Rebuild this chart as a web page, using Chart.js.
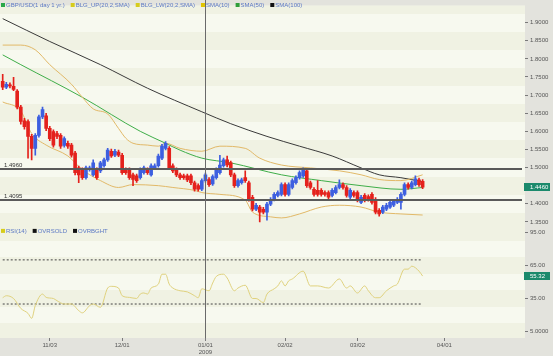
<!DOCTYPE html>
<html><head><meta charset="utf-8"><title>GBP/USD</title>
<script src="https://cdn.jsdelivr.net/npm/chart.js@4.4.1/dist/chart.umd.min.js"></script>
<style>html,body{margin:0;padding:0;background:#e3e3dd;overflow:hidden}canvas{display:block}</style>
</head><body>
<canvas id="c" width="553" height="356"></canvas>
<script>
// ---- data (daily candles, 15 Oct 2008 .. 26 Mar 2009) ----
const candleOpen  = [1.738,1.722,1.728,1.724,1.711,1.667,1.629,1.627,1.586,1.553,1.589,1.640,1.643,1.608,1.599,1.594,1.589,1.561,1.567,1.562,1.540,1.499,1.494,1.472,1.494,1.480,1.494,1.491,1.505,1.521,1.545,1.534,1.543,1.534,1.494,1.494,1.480,1.477,1.472,1.486,1.494,1.480,1.499,1.505,1.526,1.553,1.553,1.505,1.494,1.480,1.477,1.477,1.477,1.458,1.450,1.440,1.464,1.467,1.455,1.472,1.486,1.505,1.521,1.513,1.480,1.450,1.458,1.472,1.458,1.418,1.385,1.391,1.385,1.377,1.399,1.412,1.423,1.426,1.453,1.426,1.445,1.458,1.472,1.477,1.491,1.458,1.440,1.437,1.437,1.431,1.431,1.423,1.431,1.445,1.453,1.445,1.418,1.431,1.431,1.404,1.423,1.420,1.426,1.412,1.382,1.377,1.385,1.391,1.396,1.404,1.404,1.426,1.453,1.445,1.453,1.466,1.462];
const candleHigh  = [1.757,1.735,1.734,1.749,1.715,1.672,1.636,1.632,1.592,1.594,1.645,1.667,1.650,1.614,1.604,1.600,1.594,1.585,1.573,1.567,1.545,1.504,1.499,1.504,1.504,1.521,1.499,1.517,1.526,1.553,1.551,1.550,1.548,1.539,1.499,1.499,1.485,1.482,1.499,1.504,1.499,1.510,1.510,1.537,1.564,1.572,1.558,1.510,1.499,1.485,1.482,1.482,1.482,1.463,1.455,1.469,1.485,1.472,1.480,1.499,1.534,1.526,1.532,1.518,1.485,1.469,1.471,1.491,1.463,1.423,1.401,1.396,1.390,1.404,1.417,1.431,1.436,1.458,1.458,1.458,1.469,1.477,1.491,1.499,1.496,1.463,1.445,1.464,1.442,1.436,1.436,1.442,1.450,1.466,1.458,1.450,1.442,1.436,1.436,1.423,1.428,1.425,1.431,1.417,1.387,1.396,1.401,1.409,1.412,1.417,1.431,1.458,1.458,1.463,1.477,1.471,1.467];
const candleLow   = [1.715,1.718,1.720,1.712,1.662,1.620,1.606,1.526,1.521,1.534,1.584,1.635,1.602,1.574,1.556,1.580,1.553,1.556,1.553,1.529,1.480,1.458,1.467,1.468,1.490,1.476,1.467,1.486,1.501,1.517,1.528,1.530,1.530,1.481,1.481,1.467,1.450,1.459,1.468,1.482,1.481,1.476,1.495,1.501,1.522,1.549,1.495,1.486,1.475,1.467,1.467,1.461,1.453,1.435,1.435,1.436,1.460,1.448,1.451,1.468,1.482,1.501,1.502,1.475,1.445,1.446,1.454,1.459,1.407,1.380,1.381,1.350,1.372,1.355,1.395,1.408,1.419,1.422,1.421,1.422,1.441,1.454,1.468,1.473,1.445,1.440,1.421,1.421,1.421,1.421,1.413,1.419,1.427,1.441,1.440,1.418,1.414,1.418,1.405,1.400,1.405,1.407,1.399,1.372,1.366,1.373,1.381,1.387,1.392,1.400,1.385,1.422,1.440,1.441,1.449,1.448,1.442];
const candleClose = [1.722,1.730,1.725,1.716,1.667,1.627,1.613,1.586,1.553,1.589,1.640,1.660,1.608,1.580,1.562,1.586,1.559,1.580,1.559,1.534,1.486,1.480,1.472,1.499,1.499,1.513,1.472,1.513,1.521,1.548,1.532,1.545,1.534,1.486,1.486,1.472,1.467,1.464,1.494,1.499,1.486,1.505,1.505,1.532,1.559,1.567,1.499,1.491,1.480,1.472,1.472,1.466,1.458,1.440,1.440,1.464,1.480,1.453,1.475,1.494,1.507,1.521,1.507,1.480,1.450,1.464,1.466,1.464,1.412,1.385,1.396,1.377,1.377,1.399,1.412,1.426,1.431,1.453,1.426,1.453,1.464,1.472,1.486,1.494,1.450,1.445,1.426,1.426,1.426,1.426,1.418,1.437,1.445,1.453,1.445,1.423,1.437,1.423,1.410,1.418,1.410,1.412,1.404,1.377,1.372,1.391,1.396,1.404,1.407,1.412,1.426,1.453,1.445,1.458,1.469,1.453,1.446];

// indicator lines (day index, value)
const bbUpIdx  = [0,5,9,13,19,22,25,29,32,34,36,40,43,45,49,55,60,67,71,77,85,93,99,104,110,116];
const bbUpVal  = [1.838,1.838,1.825,1.784,1.730,1.694,1.662,1.648,1.608,1.581,1.567,1.562,1.559,1.567,1.553,1.545,1.559,1.553,1.526,1.507,1.499,1.491,1.480,1.467,1.464,1.480];
const bbLwIdx  = [0,5,8,12,18,22,27,32,36,43,47,53,55,60,67,69,74,77,82,88,93,99,104,110,116];
const bbLwVal  = [1.681,1.656,1.594,1.562,1.532,1.494,1.464,1.445,1.453,1.450,1.445,1.437,1.431,1.426,1.410,1.377,1.364,1.361,1.372,1.391,1.396,1.391,1.377,1.372,1.369];
const sma50Idx = [0,5,22,38,45,49,55,63,77,88,99,110,116];
const sma50Val = [1.811,1.784,1.694,1.600,1.567,1.548,1.526,1.513,1.480,1.464,1.450,1.440,1.445];
const sma100Idx = [0,13,27,40,55,63,73,82,91,99,104,110,116];
const sma100Val = [1.911,1.848,1.784,1.719,1.654,1.621,1.586,1.559,1.532,1.499,1.480,1.472,1.461];

const rsiIdx = [0,1,3,5,7,8,9,11,12,14,15,17,19,21,22,24,25,27,29,30,32,33,35,37,38,39,40,41,43,44,45,46,47,49,51,53,54,55,57,58,59,61,62,64,65,67,69,70,72,73,75,76,77,78,79,80,83,85,87,90,93,95,96,98,100,101,103,104,106,108,109,111,112,113,115,116];
const rsiVal = [35.7,37.5,35,26,21.5,17,28.6,39,36,35,33,30,30,24,22,28.5,30,27,44.5,46,44.5,37.5,36,35,39,40,39,44.5,48,57,57,48,44.5,42,41,37.5,35.7,43.8,42,49,55,57,53.6,42,44.5,47,35,35,31.3,39,43.8,46.4,51,46.4,51,52.7,59.8,46.4,46.4,44.5,52.7,44.5,46.4,40,46.4,42,35.7,35.7,42,46.4,48,61.6,61.6,64.3,59.8,55.32];
const rsiLevels = [30, 70];

const tickIdx    = [13,33,56,78,98,122];
const tickLabels = ['11/03','12/01','01/01','02/02','03/02','04/01'];
const yearLabel  = '2009';
const priceTicks = [1.35,1.40,1.45,1.50,1.55,1.60,1.65,1.70,1.75,1.80,1.85,1.90];
const rsiTicks   = [5,20,35,50,65,80,95];
const levelValues = [1.4960, 1.4095];
const levelLabels = ['1.4960', '1.4095'];
const lastPrice = 1.4460, lastRsi = 55.32;

const mainLegend = [['GBP/USD(1 day 1 yr.)','#2aa84a'],['BLG_UP(20,2,SMA)','#d6cc1c'],['BLG_LW(20,2,SMA)','#d6cc1c'],['SMA(10)','#e0c400'],['SMA(50)','#2f9e3a'],['SMA(100)','#111111']];
const rsiLegend  = [['RSI(14)','#d6cc1c'],['OVRSOLD','#111111'],['OVRBGHT','#111111']];

// ---- chart ----
const FONT = 'Arial, "Liberation Sans", sans-serif';
const idx = candleOpen.map((_, i) => i);
const candleColor = idx.map(i => candleClose[i] >= candleOpen[i] ? '#3d5fe0' : '#e4211c');
const wickData = idx.map(i => ({x: i, y: [candleLow[i], candleHigh[i]]}));
const bodyData = idx.map(i => ({x: i, y: [candleOpen[i], candleClose[i]]}));
const pts = (xs, ys) => xs.map((x, k) => ({x: x, y: ys[k]}));
const lastI = idx[idx.length - 1];
const lineDs = (label, data, color, axis, extra) => Object.assign({type:'line', label, data, yAxisID: axis, borderColor: color, borderWidth: 1, pointRadius: 0, cubicInterpolationMode: 'monotone', order: 2}, extra || {});

const bgPlugin = {
  id: 'bg',
  beforeDraw(chart) {
    const {ctx, chartArea: a} = chart;
    ctx.save();
    ctx.fillStyle = '#e3e3dd';
    ctx.fillRect(0, 0, chart.width, chart.height);
    [['y', 0.025, 1.25, 2.05], ['yRsi', 7.5, -25, 125]].forEach(([id, half, from, to]) => {
      const s = chart.scales[id];
      ctx.save();
      ctx.beginPath(); ctx.rect(a.left, s.top, a.right - a.left, s.bottom - s.top); ctx.clip();
      ctx.fillStyle = '#f7f9ef';
      ctx.fillRect(a.left, s.top, a.right - a.left, s.bottom - s.top);
      const step = half * 2;
      let k = 0;
      for (let v = from; v <= to; v += step, k++) {
        if (k % 2 === 0) {
          const y1 = s.getPixelForValue(v + half), y2 = s.getPixelForValue(v - half);
          ctx.fillStyle = '#f0f2e3';
          ctx.fillRect(a.left, Math.round(y1), a.right - a.left, Math.round(y2) - Math.round(y1));
        }
      }
      ctx.restore();
    });
    ctx.restore();
  },
  afterDatasetsDraw(chart) {
    const {ctx, chartArea: a} = chart;
    const y = chart.scales.y, x = chart.scales.x;
    ctx.save();
    levelValues.forEach((v, k) => {
      const py = Math.round(y.getPixelForValue(v));
      ctx.fillStyle = '#5a5a5a';
      ctx.fillRect(a.left, py - 1, a.right - a.left - 3, 2);
      ctx.fillStyle = '#333';
      ctx.font = '6px ' + FONT;
      ctx.textBaseline = 'bottom';
      ctx.fillText(levelLabels[k], a.left + 4, py - 1);
    });
    const vx = Math.round(x.getPixelForValue(tickIdx[2])) + 0.5;
    ctx.strokeStyle = '#6a6a6a'; ctx.lineWidth = 1;
    ctx.beginPath(); ctx.moveTo(vx, 0); ctx.lineTo(vx, a.bottom); ctx.stroke();
    ctx.restore();
  },
  afterDraw(chart) {
    const {ctx, chartArea: a} = chart;
    ctx.save();
    ctx.font = '6px ' + FONT;
    ctx.textBaseline = 'middle';
    const drawLegend = (items, cy) => {
      let lx = a.left + 1;
      items.forEach(([t, c]) => {
        ctx.fillStyle = c; ctx.fillRect(lx, cy - 2, 4, 4);
        ctx.fillStyle = '#5b78c4'; ctx.fillText(t, lx + 5, cy);
        lx += 5 + ctx.measureText(t).width + 6;
      });
    };
    drawLegend(mainLegend, 5);
    drawLegend(rsiLegend, chart.scales.yRsi.top + 5);
    [['y', lastPrice, lastPrice.toFixed(4)], ['yRsi', lastRsi, lastRsi.toFixed(2)]].forEach(([id, v, t]) => {
      const s = chart.scales[id];
      const py = Math.round(s.getPixelForValue(v));
      ctx.fillStyle = '#1b8a6c';
      ctx.fillRect(a.right - 1, py - 4, 26, 8);
      ctx.fillStyle = '#ffffff';
      ctx.textAlign = 'left';
      ctx.fillText(t, a.right + 5, py);
    });
    ctx.restore();
  }
};

new Chart(document.getElementById('c'), {
  data: {
    datasets: [
      {type:'bar', label:'wick', data: wickData, yAxisID:'y', backgroundColor: candleColor, barThickness: 1, grouped: false, order: 1},
      {type:'bar', label:'GBP/USD(1 day 1 yr.)', data: bodyData, yAxisID:'y', backgroundColor: candleColor, barThickness: 3, grouped: false, minBarLength: 1, order: 0},
      lineDs('BLG_UP(20,2,SMA)', pts(bbUpIdx, bbUpVal), '#e2b968', 'y'),
      lineDs('BLG_LW(20,2,SMA)', pts(bbLwIdx, bbLwVal), '#e2b968', 'y'),
      lineDs('SMA(50)', pts(sma50Idx, sma50Val), '#3fae49', 'y'),
      lineDs('SMA(100)', pts(sma100Idx, sma100Val), '#3a3a3a', 'y'),
      lineDs('RSI(14)', pts(rsiIdx, rsiVal), '#e0d27e', 'yRsi'),
      lineDs('OVRSOLD', [{x: idx[0], y: rsiLevels[0]}, {x: lastI, y: rsiLevels[0]}], '#444', 'yRsi', {borderDash: [2, 2], cubicInterpolationMode: 'default'}),
      lineDs('OVRBGHT', [{x: idx[0], y: rsiLevels[1]}, {x: lastI, y: rsiLevels[1]}], '#444', 'yRsi', {borderDash: [2, 2], cubicInterpolationMode: 'default'})
    ]
  },
  options: {
    responsive: false, animation: false, devicePixelRatio: 1,
    layout: {padding: 0},
    plugins: {legend: {display: false}, tooltip: {enabled: false}},
    scales: {
      x: {
        type: 'linear', axis: 'x', position: 'bottom', min: -0.746, max: 144.28, offset: false,
        afterBuildTicks: s => { s.ticks = tickIdx.map(v => ({value: v})); },
        afterFit: s => { s.height = 18; },
        grid: {drawOnChartArea: false, offset: false, tickLength: 3, color: '#7a7a7a'},
        border: {display: false},
        ticks: {autoSkip: false, maxRotation: 0, padding: 1, color: '#555', font: {family: FONT, size: 6},
          callback: v => { const l = tickLabels[tickIdx.indexOf(v)]; return l === '01/01' ? [l, yearLabel] : l; }}
      },
      y: {
        type: 'linear', axis: 'y', position: 'right', stack: 'panels', stackWeight: 224, min: 1.339, max: 1.947,
        afterBuildTicks: s => { s.ticks = priceTicks.map(v => ({value: v})); },
        afterFit: s => { s.width = 28; },
        grid: {drawOnChartArea: false, tickLength: 3, color: '#7a7a7a'},
        border: {display: false},
        ticks: {padding: 2, color: '#555', font: {family: FONT, size: 6}, callback: v => v.toFixed(4)}
      },
      yRsi: {
        type: 'linear', axis: 'y', position: 'right', stack: 'panels', stackWeight: 114, min: -0.8, max: 100.8,
        afterBuildTicks: s => { s.ticks = rsiTicks.map(v => ({value: v})); },
        afterFit: s => { s.width = 28; },
        grid: {drawOnChartArea: false, tickLength: 3, color: '#7a7a7a'},
        border: {display: false},
        ticks: {padding: 2, color: '#555', font: {family: FONT, size: 6}, callback: v => v === 5 ? '5.0000' : v.toFixed(2)}
      }
    }
  },
  plugins: [bgPlugin]
});
</script>
</body></html>
